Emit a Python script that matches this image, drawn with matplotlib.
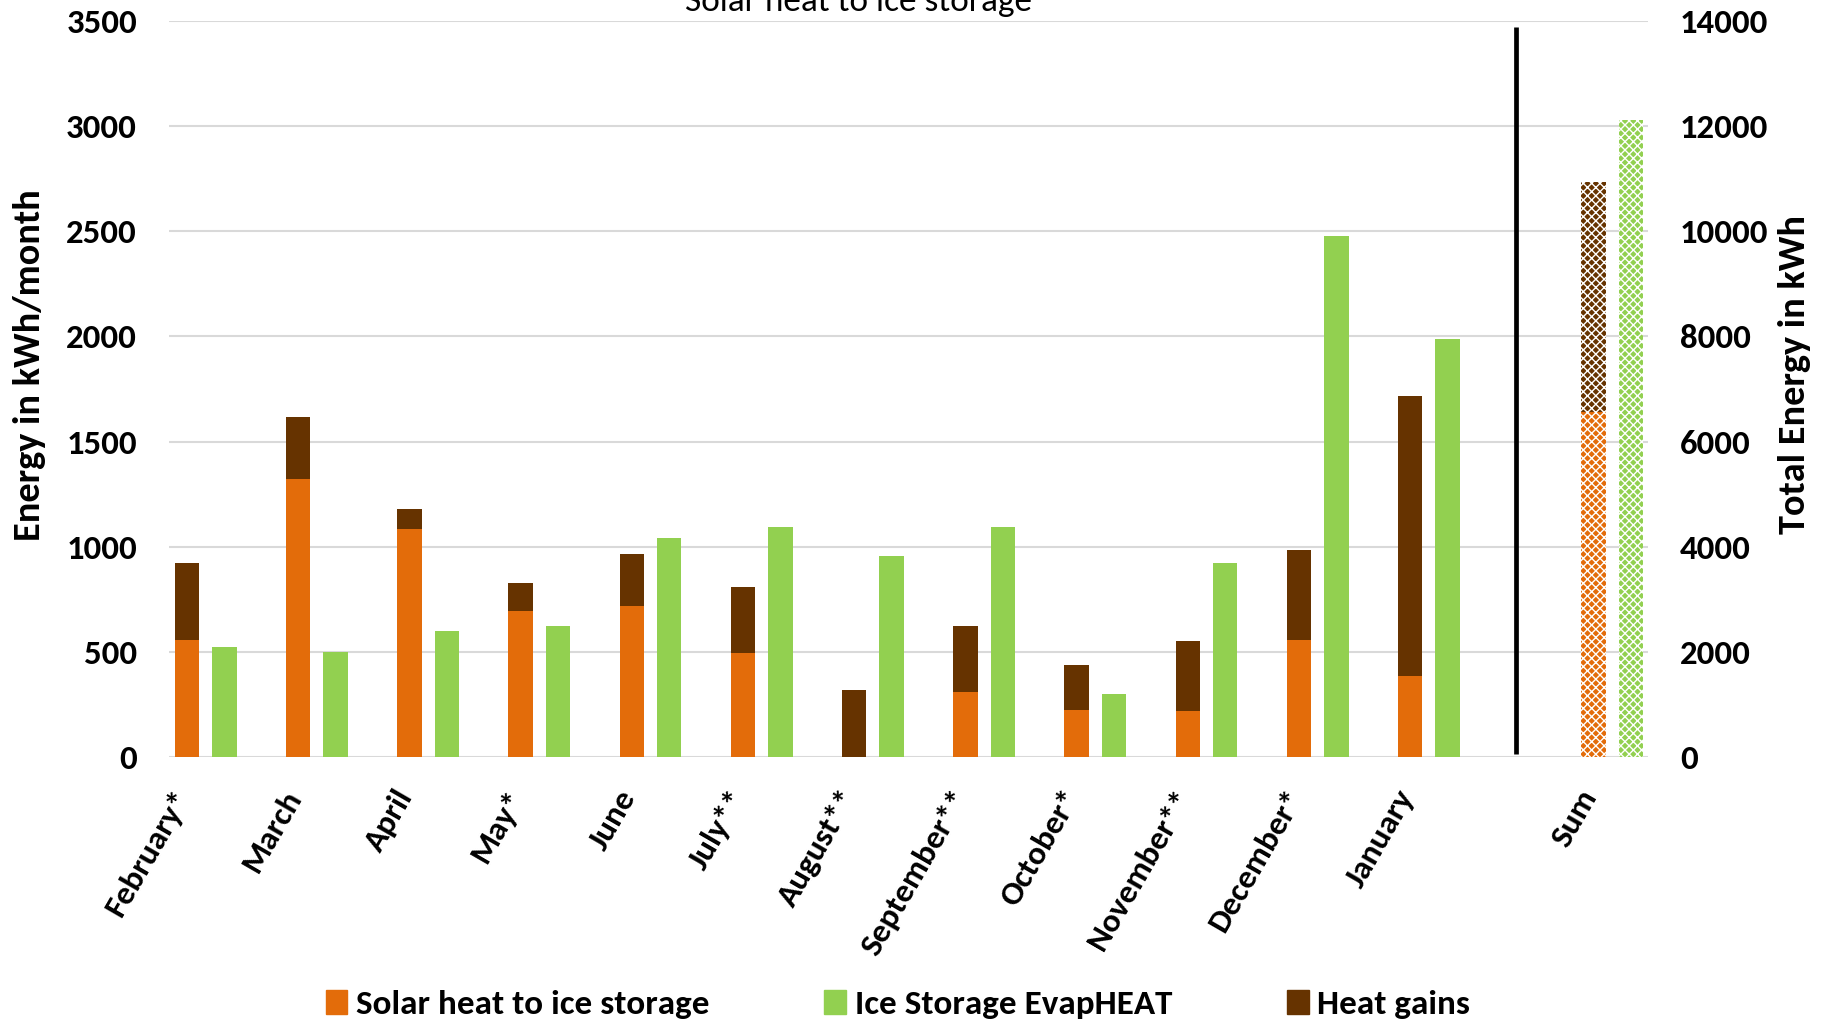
import numpy as np
import matplotlib
matplotlib.use("Agg")
import matplotlib.pyplot as plt
from matplotlib.patches import Patch
from matplotlib.transforms import ScaledTranslation

# Monthly energy balance (kWh/month)
months = ["February*", "March", "April", "May*", "June", "July**", "August**",
          "September**", "October*", "November**", "December*", "January"]
solar_to_ice = [556, 1322, 1083, 694, 717, 494, 0, 311, 222, 217, 556, 383]
heat_gains = [366, 295, 95, 134, 250, 312, 317, 311, 217, 333, 427, 1334]
evap_heat = [522, 500, 600, 622, 1039, 1094, 956, 1094, 300, 922, 2478, 1989]
sum_label = "Sum"

left_ticks = [0, 500, 1000, 1500, 2000, 2500, 3000, 3500]
right_ticks = [0, 2000, 4000, 6000, 8000, 10000, 12000, 14000]

c_orange = "#E36C0A"
c_green = "#92D050"
c_brown = "#663300"
c_grid = "#D9D9D9"

text_font = ["Carlito", "Lato"]
plt.rcParams["hatch.linewidth"] = 1.0

fig = plt.figure(figsize=(18.31, 10.22), dpi=100)
ax = fig.add_axes([0.0923, 0.2593, 0.8077, 0.7202])
ax2 = ax.twinx()

x = np.arange(len(months))
w = 0.22
off = 0.168

ax.bar(x - off, solar_to_ice, w, color=c_orange, zorder=3)
ax.bar(x - off, heat_gains, w, bottom=solar_to_ice, color=c_brown, zorder=3)
ax.bar(x + off, evap_heat, w, color=c_green, zorder=3)

# Annual totals on the secondary axis
x_sum = len(months) - 1 + 1.65
tot_solar = float(np.sum(solar_to_ice))
tot_gains = float(np.sum(heat_gains))
tot_evap = float(np.sum(evap_heat))
ax2.bar(x_sum - off, tot_solar, w, color=c_orange, edgecolor="white",
        hatch="xxxx", linewidth=0, zorder=3)
ax2.bar(x_sum - off, tot_gains, w, bottom=tot_solar, color=c_brown,
        edgecolor="white", hatch="xxxx", linewidth=0, zorder=3)
ax2.bar(x_sum + off, tot_evap, w, color=c_green, edgecolor="white",
        hatch="xxxx", linewidth=0, zorder=3)

# Separator between monthly values and the annual sum
ax.vlines(len(months) - 1 + 0.78, 15, 3470, color="black", lw=3.4, zorder=4)

ax.set_xlim(-0.33, 12.97)
ax.set_ylim(0, 3500)
ax2.set_ylim(0, 14000)
ax.set_yticks(left_ticks)
ax2.set_yticks(right_ticks)
ax.yaxis.grid(True, color=c_grid, lw=1.5, zorder=0)
ax.set_axisbelow(True)

for a in (ax, ax2):
    for s in a.spines.values():
        s.set_visible(False)
    a.tick_params(length=0)

ax.tick_params(axis="y", labelsize=25, pad=23)
ax2.tick_params(axis="y", labelsize=25, pad=23)
for lab in ax.get_yticklabels() + ax2.get_yticklabels():
    lab.set_fontweight("bold")
    lab.set_family(text_font)

ax.set_xticks(list(x) + [x_sum])
ax.set_xticklabels(months + [sum_label], rotation=60, ha="right",
                   va="center", rotation_mode="anchor", fontsize=24,
                   fontweight="bold", family=text_font)
ax.tick_params(axis="x", pad=0)
shift = ScaledTranslation(-0.22, -0.35, fig.dpi_scale_trans)
for lab in ax.get_xticklabels():
    lab.set_transform(lab.get_transform() + shift)

ax.set_ylabel("Energy in kWh/month", fontsize=27.5, fontweight="bold",
              family=text_font)
ax.yaxis.set_label_coords(-0.083, 0.532)
ax2.set_ylabel("Total Energy in kWh", fontsize=27.5, fontweight="bold",
               family=text_font)
ax2.yaxis.set_label_coords(1.088, 0.52)

fig.text(0.469, 0.998, "Solar heat to ice storage", ha="center",
         va="center", fontsize=25.4, family=text_font)

handles = [Patch(color=c_orange, label="Solar heat to ice storage"),
           Patch(color=c_green, label="Ice Storage EvapHEAT"),
           Patch(color=c_brown, label="Heat gains")]
leg = fig.legend(handles=handles, loc="center", bbox_to_anchor=(0.4904, 0.017),
                 ncol=3, frameon=False, handlelength=0.62, handleheight=0.7,
                 handletextpad=0.25, columnspacing=3.26,
                 prop={"family": text_font, "weight": "bold", "size": 25.3})

fig.savefig("out.png", dpi=100)
